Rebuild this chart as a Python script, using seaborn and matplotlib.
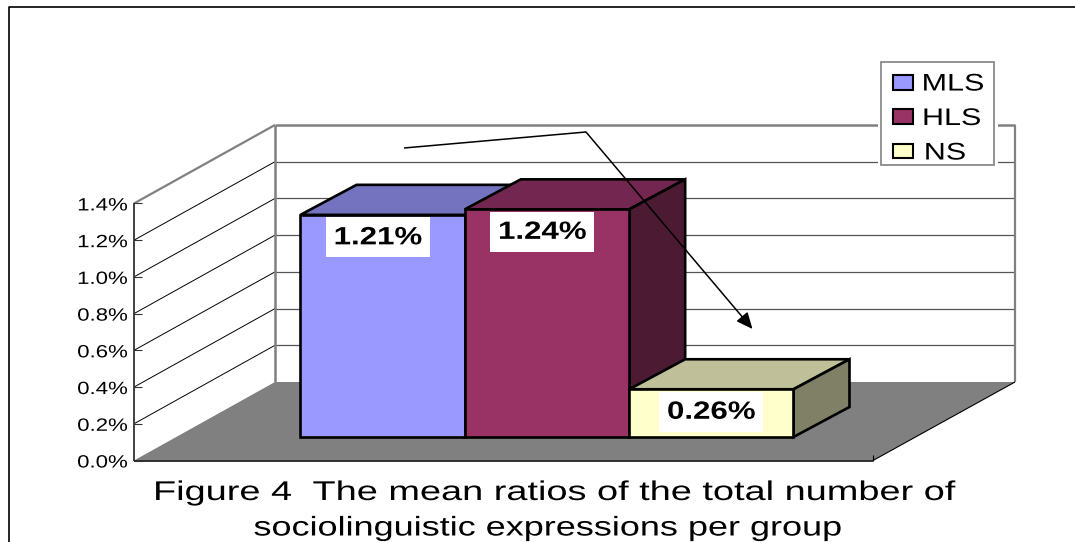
import matplotlib
matplotlib.use("Agg")
import matplotlib.pyplot as plt
import matplotlib.patheffects as pe
from matplotlib.patches import Patch, Polygon, Rectangle
from matplotlib.transforms import Affine2D
import pandas as pd
import seaborn as sns

groups = ["MLS", "HLS", "NS"]
mean_ratios = [1.21, 1.24, 0.26]
value_labels = ["1.21%", "1.24%", "0.26%"]
tick_values = [0.0, 0.2, 0.4, 0.6, 0.8, 1.0, 1.2, 1.4]
tick_labels = ["0.0%", "0.2%", "0.4%", "0.6%", "0.8%", "1.0%", "1.2%", "1.4%"]
title_line_1 = "Figure 4  The mean ratios of the total number of"
title_line_2 = "sociolinguistic expressions per group"

front_colors = ["#9999FF", "#993366", "#FFFFCC"]
top_colors = ["#7373BF", "#732650", "#BFBF99"]
side_colors = ["#5C5C99", "#4D1A33", "#808066"]

W, H = 1075, 542
X_SCALE = 164.33   # canvas pixels per category
Y_SCALE = 183.6    # canvas pixels per percentage point
BASE_PX = 437.0    # canvas row of the bars' baseline
BAR_LEFT_PX = 300.5


class StretchX(pe.AbstractPathEffect):
    """Widen glyphs horizontally about the centre of each text line."""

    def __init__(self, sx, dx=0.0):
        super().__init__()
        self.sx, self.dx = sx, dx

    def draw_path(self, renderer, gc, tpath, affine, rgbFace=None):
        ext = tpath.get_extents()
        cx = (ext.x0 + ext.x1) / 2
        inner = Affine2D().translate(-cx, 0).scale(self.sx, 1).translate(cx, 0)
        shift = Affine2D().translate(self.dx, 0)
        renderer.draw_path(gc, tpath, inner + affine + shift, rgbFace)


def canvas(px, py):
    """Convert canvas pixels (origin top-left) to data coordinates."""
    return (px - BAR_LEFT_PX) / X_SCALE - 0.5, (BASE_PX - py) / Y_SCALE


def line(points, color="black", lw=0.8, z=1, **kw):
    xs, ys = zip(*[canvas(*p) for p in points])
    ax.plot(xs, ys, color=color, lw=lw, zorder=z, solid_capstyle="butt", **kw)


sns.set_theme(style="white")
plt.rcParams["font.family"] = ["Liberation Sans", "DejaVu Sans"]

fig = plt.figure(figsize=(W / 100, H / 100), dpi=100)
ax = fig.add_axes([0, 0, 1, 1])

frame = pd.DataFrame({"group": groups, "ratio": mean_ratios})
sns.barplot(
    data=frame, x="group", y="ratio", hue="group", palette=front_colors,
    width=1.0, dodge=False, legend=False, edgecolor="black", linewidth=1.9,
    saturation=1, ax=ax,
)
bars = list(ax.patches)
ax.set_xlim(canvas(0, 0)[0], canvas(W, 0)[0])
ax.set_ylim(canvas(0, H)[1], canvas(0, 0)[1])
ax.set_axis_off()

# Back wall and floor of the 3-D box
FRONT_X, BACK_X, FRONT_R, BACK_R = 134, 275, 873, 1015
FRONT_Y, BACK_Y = 460.5, 382.0
line([(FRONT_X, FRONT_Y - 1.4 * Y_SCALE), (BACK_X, BACK_Y - 1.4 * Y_SCALE)], "#808080", 1.6)
for v in tick_values[1:-1]:
    shift = v * Y_SCALE
    line([(FRONT_X, FRONT_Y - shift), (BACK_X, BACK_Y - shift)], "black", 0.7)
    line([(BACK_X, BACK_Y - shift), (BACK_R, BACK_Y - shift)], "#555555", 0.9)
line([(BACK_X, BACK_Y - 1.4 * Y_SCALE), (BACK_R, BACK_Y - 1.4 * Y_SCALE)], "#808080", 1.8)
line([(BACK_X, BACK_Y), (BACK_X, BACK_Y - 1.4 * Y_SCALE)], "#808080", 1.8)
line([(BACK_R, BACK_Y), (BACK_R, BACK_Y - 1.4 * Y_SCALE)], "#808080", 1.6)

floor = [canvas(FRONT_X, FRONT_Y), canvas(FRONT_R, FRONT_Y), canvas(BACK_R, BACK_Y), canvas(BACK_X, BACK_Y)]
ax.add_patch(Polygon(floor, closed=True, facecolor="#808080", edgecolor="none", zorder=1.5))
line([(FRONT_R, FRONT_Y), (BACK_R, BACK_Y)], "black", 0.8, 1.6)
line([(FRONT_R, FRONT_Y), (FRONT_R, FRONT_Y - 6)], "black", 0.8, 1.6)
line([(FRONT_X, FRONT_Y), (FRONT_R, FRONT_Y)], "#222222", 1.3, 1.7)
line([(FRONT_X, FRONT_Y), (FRONT_X, FRONT_Y - 1.4 * Y_SCALE)], "#333333", 1.3, 1.7)

for v, label in zip(tick_values, tick_labels):
    row = FRONT_Y - v * Y_SCALE
    line([(FRONT_X, row), (FRONT_X + 8, row)], "#333333", 0.8, 1.7)
    tx, ty = canvas(102.5, row + 2.5)
    ax.text(tx, ty, label, ha="center", va="center", fontsize=12.8, color="black",
            path_effects=[StretchX(1.25)])

# Bars: front faces come from seaborn, top and side faces from the same heights
DEPTH_X = 56 / X_SCALE
DEPTH_Y = 30 / Y_SCALE
for i, bar in enumerate(bars):
    x0, w, h = bar.get_x(), bar.get_width(), bar.get_height()
    z = 3 + i
    bar.set_zorder(z + 0.2)
    bar.set_joinstyle("miter")
    ax.add_patch(Polygon(
        [(x0, h), (x0 + DEPTH_X, h + DEPTH_Y), (x0 + w + DEPTH_X, h + DEPTH_Y), (x0 + w, h)],
        closed=True, facecolor=top_colors[i], edgecolor="black", lw=1.9, zorder=z, joinstyle="miter"))
    ax.add_patch(Polygon(
        [(x0 + w, 0), (x0 + w + DEPTH_X, DEPTH_Y), (x0 + w + DEPTH_X, h + DEPTH_Y), (x0 + w, h)],
        closed=True, facecolor=side_colors[i], edgecolor="black", lw=1.9, zorder=z, joinstyle="miter"))

# Value labels on white plates just under each bar's top
label_dx = [-4.5 / X_SCALE, -4.5 / X_SCALE, 0.0]
for i, (value, text) in enumerate(zip(mean_ratios, value_labels)):
    cx = i + label_dx[i]
    top = value - 2.5 / Y_SCALE
    ax.add_patch(Rectangle((cx - 52 / X_SCALE, top - 40 / Y_SCALE), 104 / X_SCALE, 40 / Y_SCALE,
                           facecolor="white", edgecolor="none", zorder=7))
    ax.text(cx, top - 20 / Y_SCALE, text, ha="center", va="center", fontsize=18, fontweight="bold",
            color="black", zorder=8, path_effects=[StretchX(1.25)])

# Callout arrow running from the tall bars down to the NS bar
line([(404, 148), (586, 132)], "black", 1.1, 9)
ax.annotate("", xy=canvas(752.5, 329), xytext=canvas(586, 132),
            arrowprops=dict(arrowstyle="-|>,head_length=0.9,head_width=0.4", color="black",
                            lw=1.1, shrinkA=0, shrinkB=0, mutation_scale=11), zorder=9)

# Page border
line([(9.5, H), (9.5, 6.5), (W, 6.5)], "black", 1.2, 0.5)

# Legend box with a white halo that interrupts the gridlines behind it
lx0, ly0 = canvas(881, 165)
lx1, ly1 = canvas(994, 62)
ax.add_patch(Rectangle((lx0, ly0), lx1 - lx0, ly1 - ly0, facecolor="white", edgecolor="#808080",
                       lw=1.2, zorder=9.5,
                       path_effects=[pe.withStroke(linewidth=5, foreground="white")]))

handles = [Patch(facecolor=c, edgecolor="black", linewidth=1.5, label=g)
           for c, g in zip(front_colors, groups)]
leg = ax.legend(
    handles=handles, loc="upper left", bbox_to_anchor=(881 / W, 1 - 61.5 / H),
    bbox_transform=fig.transFigure, fontsize=17.3, frameon=False,
    borderaxespad=0, borderpad=0.5, handlelength=0.83, handleheight=0.58,
    handletextpad=0.83, labelspacing=0.52,
)
leg.set_zorder(10)
for t in leg.get_texts():
    t.set_color("black")
    t.set_path_effects([StretchX(1.27, -4.5)])

tx, ty = canvas(555, 493)
ax.text(tx, ty, title_line_1, ha="center", va="center", fontsize=19.5, color="black",
        path_effects=[StretchX(1.40)])
tx, ty = canvas(548.5, 528.5)
ax.text(tx, ty, title_line_2, ha="center", va="center", fontsize=19.5, color="black",
        path_effects=[StretchX(1.33)])

fig.savefig("out.png", dpi=100)
